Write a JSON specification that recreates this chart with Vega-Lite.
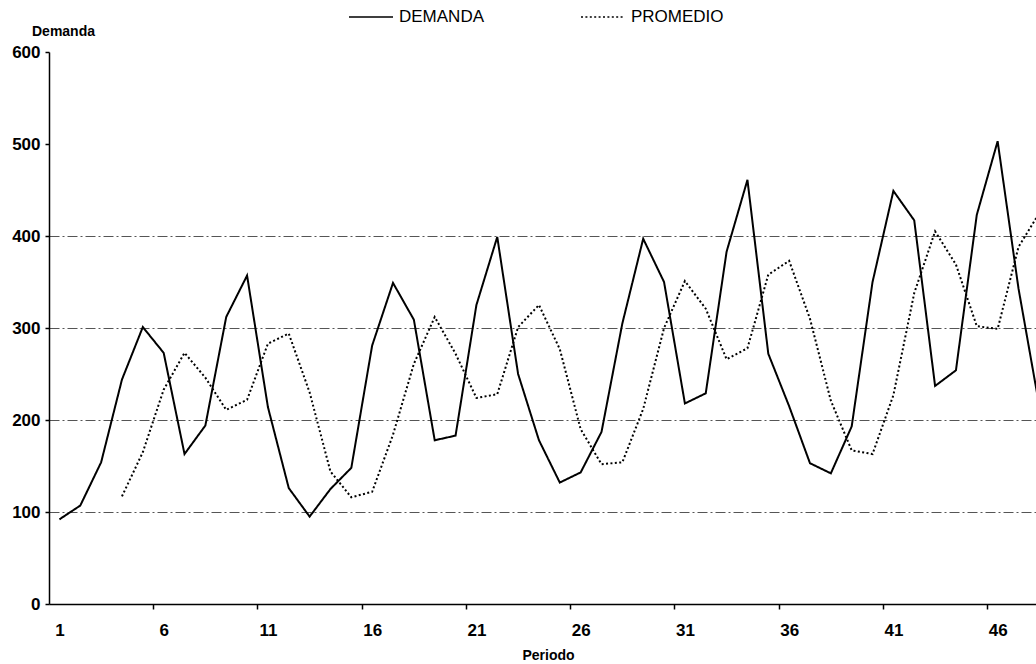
{
  "$schema": "https://vega.github.io/schema/vega-lite/v6.json",
  "autosize": {"type": "none"},
  "padding": {"left": 49, "top": 52, "right": 0, "bottom": 60},
  "width": 987,
  "height": 552,
  "background": "white",
  "config": {"view": {"stroke": null}},
  "data": {
    "values": [
      {"p": 1, "serie": "DEMANDA", "v": 92},
      {"p": 2, "serie": "DEMANDA", "v": 107},
      {"p": 3, "serie": "DEMANDA", "v": 154},
      {"p": 4, "serie": "DEMANDA", "v": 244},
      {"p": 5, "serie": "DEMANDA", "v": 301},
      {"p": 6, "serie": "DEMANDA", "v": 273},
      {"p": 7, "serie": "DEMANDA", "v": 163},
      {"p": 8, "serie": "DEMANDA", "v": 194},
      {"p": 9, "serie": "DEMANDA", "v": 312},
      {"p": 10, "serie": "DEMANDA", "v": 357},
      {"p": 11, "serie": "DEMANDA", "v": 214},
      {"p": 12, "serie": "DEMANDA", "v": 126},
      {"p": 13, "serie": "DEMANDA", "v": 95},
      {"p": 14, "serie": "DEMANDA", "v": 125},
      {"p": 15, "serie": "DEMANDA", "v": 148},
      {"p": 16, "serie": "DEMANDA", "v": 281},
      {"p": 17, "serie": "DEMANDA", "v": 349},
      {"p": 18, "serie": "DEMANDA", "v": 309},
      {"p": 19, "serie": "DEMANDA", "v": 178},
      {"p": 20, "serie": "DEMANDA", "v": 183},
      {"p": 21, "serie": "DEMANDA", "v": 325},
      {"p": 22, "serie": "DEMANDA", "v": 399},
      {"p": 23, "serie": "DEMANDA", "v": 250},
      {"p": 24, "serie": "DEMANDA", "v": 178},
      {"p": 25, "serie": "DEMANDA", "v": 132},
      {"p": 26, "serie": "DEMANDA", "v": 143},
      {"p": 27, "serie": "DEMANDA", "v": 187},
      {"p": 28, "serie": "DEMANDA", "v": 305},
      {"p": 29, "serie": "DEMANDA", "v": 397},
      {"p": 30, "serie": "DEMANDA", "v": 350},
      {"p": 31, "serie": "DEMANDA", "v": 218},
      {"p": 32, "serie": "DEMANDA", "v": 229},
      {"p": 33, "serie": "DEMANDA", "v": 383},
      {"p": 34, "serie": "DEMANDA", "v": 461},
      {"p": 35, "serie": "DEMANDA", "v": 272},
      {"p": 36, "serie": "DEMANDA", "v": 215},
      {"p": 37, "serie": "DEMANDA", "v": 153},
      {"p": 38, "serie": "DEMANDA", "v": 142},
      {"p": 39, "serie": "DEMANDA", "v": 193},
      {"p": 40, "serie": "DEMANDA", "v": 350},
      {"p": 41, "serie": "DEMANDA", "v": 449},
      {"p": 42, "serie": "DEMANDA", "v": 417},
      {"p": 43, "serie": "DEMANDA", "v": 237},
      {"p": 44, "serie": "DEMANDA", "v": 254},
      {"p": 45, "serie": "DEMANDA", "v": 423},
      {"p": 46, "serie": "DEMANDA", "v": 503},
      {"p": 47, "serie": "DEMANDA", "v": 343},
      {"p": 48, "serie": "DEMANDA", "v": 215},
      {"p": 4, "serie": "PROMEDIO", "v": 117},
      {"p": 5, "serie": "PROMEDIO", "v": 165},
      {"p": 6, "serie": "PROMEDIO", "v": 233},
      {"p": 7, "serie": "PROMEDIO", "v": 273},
      {"p": 8, "serie": "PROMEDIO", "v": 246},
      {"p": 9, "serie": "PROMEDIO", "v": 211},
      {"p": 10, "serie": "PROMEDIO", "v": 222},
      {"p": 11, "serie": "PROMEDIO", "v": 283},
      {"p": 12, "serie": "PROMEDIO", "v": 294},
      {"p": 13, "serie": "PROMEDIO", "v": 230},
      {"p": 14, "serie": "PROMEDIO", "v": 144},
      {"p": 15, "serie": "PROMEDIO", "v": 116},
      {"p": 16, "serie": "PROMEDIO", "v": 122},
      {"p": 17, "serie": "PROMEDIO", "v": 184},
      {"p": 18, "serie": "PROMEDIO", "v": 261},
      {"p": 19, "serie": "PROMEDIO", "v": 312},
      {"p": 20, "serie": "PROMEDIO", "v": 272},
      {"p": 21, "serie": "PROMEDIO", "v": 224},
      {"p": 22, "serie": "PROMEDIO", "v": 228},
      {"p": 23, "serie": "PROMEDIO", "v": 301},
      {"p": 24, "serie": "PROMEDIO", "v": 325},
      {"p": 25, "serie": "PROMEDIO", "v": 277},
      {"p": 26, "serie": "PROMEDIO", "v": 190},
      {"p": 27, "serie": "PROMEDIO", "v": 152},
      {"p": 28, "serie": "PROMEDIO", "v": 154},
      {"p": 29, "serie": "PROMEDIO", "v": 212},
      {"p": 30, "serie": "PROMEDIO", "v": 300},
      {"p": 31, "serie": "PROMEDIO", "v": 351},
      {"p": 32, "serie": "PROMEDIO", "v": 321},
      {"p": 33, "serie": "PROMEDIO", "v": 266},
      {"p": 34, "serie": "PROMEDIO", "v": 278},
      {"p": 35, "serie": "PROMEDIO", "v": 358},
      {"p": 36, "serie": "PROMEDIO", "v": 373},
      {"p": 37, "serie": "PROMEDIO", "v": 310},
      {"p": 38, "serie": "PROMEDIO", "v": 221},
      {"p": 39, "serie": "PROMEDIO", "v": 167},
      {"p": 40, "serie": "PROMEDIO", "v": 163},
      {"p": 41, "serie": "PROMEDIO", "v": 227},
      {"p": 42, "serie": "PROMEDIO", "v": 338},
      {"p": 43, "serie": "PROMEDIO", "v": 405},
      {"p": 44, "serie": "PROMEDIO", "v": 369},
      {"p": 45, "serie": "PROMEDIO", "v": 302},
      {"p": 46, "serie": "PROMEDIO", "v": 299},
      {"p": 47, "serie": "PROMEDIO", "v": 388},
      {"p": 48, "serie": "PROMEDIO", "v": 425}
    ]
  },
  "mark": {"type": "line", "color": "black", "strokeWidth": 2, "clip": true},
  "encoding": {
    "x": {
      "field": "p",
      "type": "quantitative",
      "scale": {"domain": [0.5, 47.84], "nice": false, "zero": false},
      "axis": {
        "values": [0.5, 1, 5.5, 6, 10.5, 11, 15.5, 16, 20.5, 21, 25.5, 26, 30.5, 31, 35.5, 36, 40.5, 41, 45.5, 46],
        "labelExpr": "datum.value % 1 === 0 ? datum.label : ''",
        "labelOverlap": false,
        "labelFlush": false,
        "grid": false,
        "tickSize": 5,
        "tickColor": "black",
        "tickWidth": 1.5,
        "tickOpacity": {"condition": {"test": "datum.value % 1 !== 0 && datum.value > 1", "value": 1}, "value": 0},
        "domainColor": "black",
        "domainWidth": 1.5,
        "labelFont": "Liberation Sans",
        "labelFontWeight": "bold",
        "labelFontSize": 17,
        "labelColor": "black",
        "labelPadding": 13,
        "labelBaseline": "top",
        "title": "Periodo",
        "titleFont": "Liberation Sans",
        "titleFontWeight": "bold",
        "titleFontSize": 14,
        "titleColor": "black",
        "titleX": 499,
        "titleY": 44,
        "titleBaseline": "top",
        "titleAlign": "center"
      }
    },
    "y": {
      "field": "v",
      "type": "quantitative",
      "scale": {"domain": [0, 600], "nice": false},
      "axis": {
        "values": [0, 100, 200, 300, 400, 500, 600],
        "grid": true,
        "gridColor": "#555555",
        "gridDash": [10, 3, 2, 3],
        "gridWidth": 1,
        "gridOpacity": {"condition": {"test": "datum.value >= 500 || datum.value === 0", "value": 0}, "value": 1},
        "tickSize": 4,
        "tickColor": "black",
        "tickWidth": 1.5,
        "domainColor": "black",
        "domainWidth": 1.5,
        "labelFont": "Liberation Sans",
        "labelFontWeight": "bold",
        "labelFontSize": 17,
        "labelColor": "black",
        "labelPadding": 5,
        "title": "Demanda",
        "titleFont": "Liberation Sans",
        "titleFontWeight": "bold",
        "titleFontSize": 14,
        "titleColor": "black",
        "titleAngle": 0,
        "titleX": 14,
        "titleY": -17,
        "titleAlign": "center",
        "titleBaseline": "alphabetic"
      }
    },
    "strokeDash": {
      "field": "serie",
      "type": "nominal",
      "scale": {"domain": ["DEMANDA", "PROMEDIO"], "range": [[1, 0], [2, 2.4]]},
      "legend": {
        "title": null,
        "orient": "none",
        "direction": "horizontal",
        "legendX": 299,
        "legendY": -58,
        "symbolType": "stroke",
        "symbolSize": 1936,
        "symbolStrokeColor": "black",
        "symbolStrokeWidth": 1.6,
        "labelFont": "Liberation Sans",
        "labelFontSize": 17,
        "labelColor": "black",
        "labelOffset": 5,
        "columnPadding": 92
      }
    }
  }
}
